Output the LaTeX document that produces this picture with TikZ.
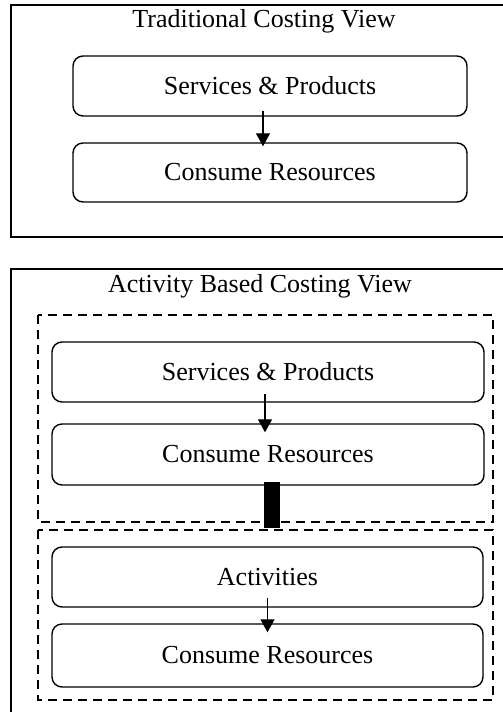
\documentclass[tikz,border=0pt]{standalone}
\usepackage{fontspec}
\setmainfont{Liberation Serif}
\usetikzlibrary{arrows.meta}

\begin{document}
\begin{tikzpicture}[
  box/.style={draw,rectangle,rounded corners=10bp,line width=1.4bp,inner sep=0pt,
    font=\fontsize{26bp}{30bp}\selectfont},
  heading/.style={anchor=base,inner sep=0pt,font=\fontsize{26bp}{30bp}\selectfont},
  frame/.style={draw,line width=2bp},
  dashbox/.style={draw,line width=1.8bp,dash pattern=on 9bp off 6bp},
  flow/.style={-{Triangle[width=14bp,length=13bp]},line width=1.4bp},
  bar/.style={line width=16bp}]
  \clip (0bp,0bp) rectangle (503bp,712bp);
  % traditional view
  \draw [frame] (11bp,707bp) rectangle (520bp,475bp);
  \node (TradTitle) at (264bp,684bp) [heading] {Traditional Costing View};
  \node (SrvA) at (270bp,626bp) [box,minimum width=394bp,minimum height=60bp] {Services \& Products};
  \node (ConA) at (270bp,539.5bp) [box,minimum width=394bp,minimum height=59bp] {Consume Resources};
  \draw [flow] ([xshift=-7bp,yshift=6bp]SrvA.south) -- ([xshift=-7bp,yshift=-4bp]ConA.north);
  % activity based view
  \draw [frame] (11bp,443bp) rectangle (520bp,-10bp);
  \node (AbcTitle) at (260bp,419bp) [heading] {Activity Based Costing View};
  \draw [dashbox] (38bp,397bp) rectangle (493bp,190bp);
  \draw [dashbox] (38bp,182bp) rectangle (493bp,12bp);
  \node (SrvB) at (268bp,340bp) [box,minimum width=432bp,minimum height=60bp] {Services \& Products};
  \node (ConB) at (268bp,257.5bp) [box,minimum width=432bp,minimum height=61bp] {Consume Resources};
  \node (Act) at (267.5bp,135bp) [box,minimum width=431bp,minimum height=60bp] {Activities};
  \node (ConC) at (267.5bp,56.5bp) [box,minimum width=431bp,minimum height=63bp] {Consume Resources};
  \coordinate (BarEnd) at (272bp,184bp);
  \draw [flow] ([xshift=-3bp,yshift=9bp]SrvB.south) -- ([xshift=-3bp,yshift=-9bp]ConB.north);
  \draw [bar] ([xshift=4bp,yshift=4bp]ConB.south) -- (BarEnd);
  \draw [flow] ([yshift=10bp]Act.south) -- ([yshift=-9bp]ConC.north);
\end{tikzpicture}
\end{document}
